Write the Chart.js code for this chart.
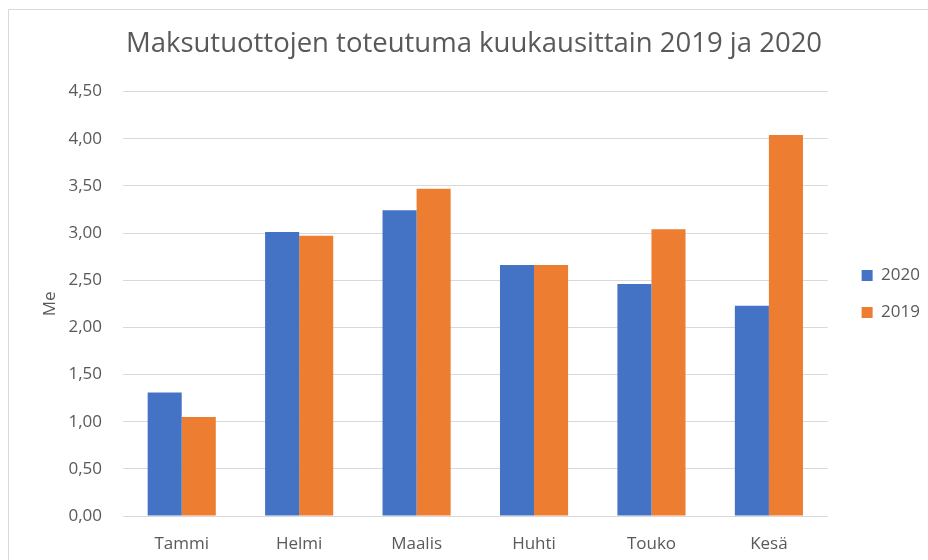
<!DOCTYPE html>
<html>
<head>
<meta charset="utf-8">
<script src="https://cdn.jsdelivr.net/npm/chart.js@4/dist/chart.umd.min.js"></script>
<style>
  html, body { margin: 0; padding: 0; background: #fff; }
  #wrap { width: 928px; height: 560px; position: relative; }
</style>
</head>
<body>
<div id="wrap"><canvas id="c" width="928" height="560"></canvas></div>
<script>
const categories = ['Tammi', 'Helmi', 'Maalis', 'Huhti', 'Touko', 'Kesä'];
const series2020 = [1.31, 3.01, 3.24, 2.66, 2.46, 2.23];
const series2019 = [1.05, 2.97, 3.47, 2.66, 3.04, 4.04];
const seriesNames = ['2020', '2019'];
const chartTitle = 'Maksutuottojen toteutuma kuukausittain 2019 ja 2020';
const yAxisTitle = 'Me';

const FONT = '"Open Sans", "Liberation Sans", sans-serif';
const TXT = '#595959';

const frame = {
  id: 'frame',
  beforeDraw(chart) {
    const ctx = chart.ctx;
    ctx.save();
    ctx.fillStyle = '#fff';
    ctx.fillRect(0, 0, chart.width, chart.height);
    ctx.strokeStyle = '#d9d9d9';
    ctx.lineWidth = 1;
    ctx.beginPath();
    ctx.moveTo(8.5, chart.height);
    ctx.lineTo(8.5, 9.5);
    ctx.lineTo(chart.width, 9.5);
    ctx.stroke();
    ctx.restore();
  }
};

const shiftBlocks = {
  id: 'shiftBlocks',
  afterLayout(chart) {
    const lg = chart.legend;
    if (lg) { lg.left += 14; lg.right += 14; lg.top += 14; lg.bottom += 14; }
    const tb = chart.titleBlock;
    if (tb) { tb.left += 16; tb.right += 16; }
  }
};

new Chart(document.getElementById('c'), {
  type: 'bar',
  data: {
    labels: categories,
    datasets: [
      { label: seriesNames[0], data: series2020, backgroundColor: '#4472C4', borderWidth: 0,
        categoryPercentage: 0.58, barPercentage: 1.0 },
      { label: seriesNames[1], data: series2019, backgroundColor: '#ED7D31', borderWidth: 0,
        categoryPercentage: 0.58, barPercentage: 1.0 }
    ]
  },
  options: {
    responsive: false,
    animation: false,
    layout: { padding: { left: 0, right: 12, top: 0, bottom: 0 } },
    plugins: {
      title: {
        display: true,
        text: chartTitle,
        color: TXT,
        font: { family: FONT, size: 27.5, weight: 'normal' },
        padding: { top: 28, bottom: 30.5 }
      },
      legend: {
        display: true,
        position: 'right',
        labels: {
          color: TXT,
          font: { family: FONT, size: 17 },
          boxWidth: 11,
          boxHeight: 11,
          padding: 20
        }
      },
      tooltip: { enabled: false }
    },
    scales: {
      x: {
        grid: { display: false },
        border: { display: false },
        ticks: { color: TXT, font: { family: FONT, size: 17 }, padding: 10 },
        afterFit(scale) { scale.height = 44; }
      },
      y: {
        min: 0,
        max: 4.5,
        ticks: {
          stepSize: 0.5,
          color: TXT,
          font: { family: FONT, size: 17 },
          padding: 21,
          callback: (v) => Number(v).toFixed(2).replace('.', ',')
        },
        grid: { color: '#d9d9d9', lineWidth: 1, drawTicks: false },
        border: { display: false },
        title: {
          display: true,
          text: yAxisTitle,
          color: TXT,
          font: { family: FONT, size: 17 },
          padding: { top: 40, bottom: 0 }
        },
        afterFit(scale) { scale.width = 123; }
      }
    }
  },
  plugins: [frame, shiftBlocks]
});
</script>
</body>
</html>
